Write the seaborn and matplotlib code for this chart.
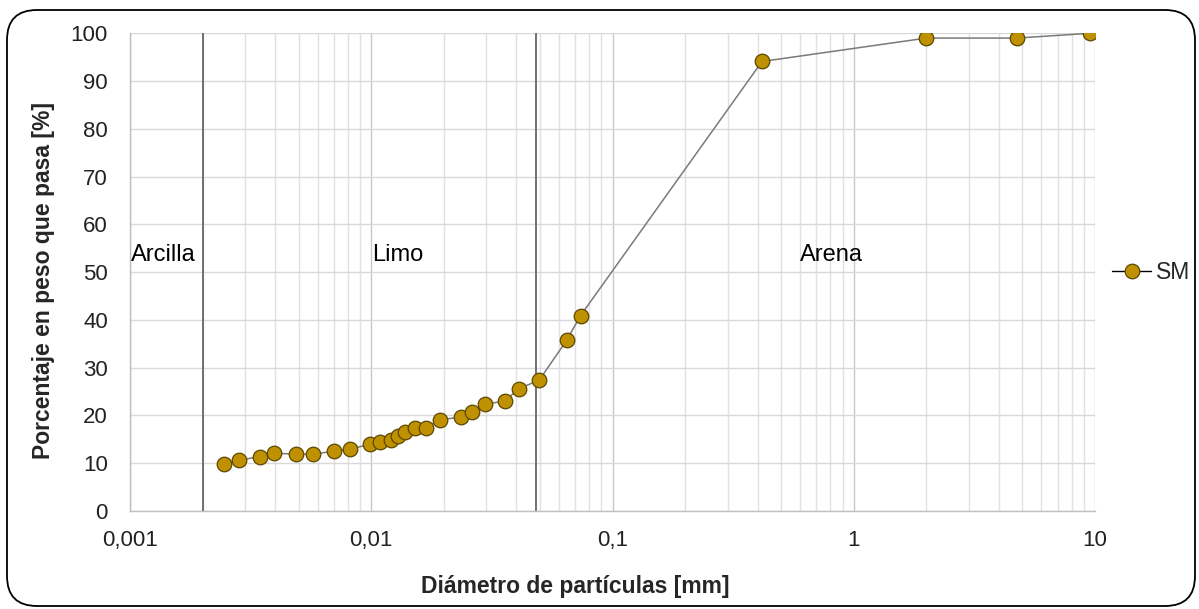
import numpy as np
import pandas as pd
import matplotlib
matplotlib.use("Agg")
import matplotlib.pyplot as plt
import seaborn as sns
from matplotlib.patches import FancyBboxPatch
from matplotlib.ticker import FixedLocator, NullFormatter, FixedFormatter

# ---- data ----
diameter_mm = [0.00246, 0.00283, 0.00345, 0.00396, 0.00489, 0.00573, 0.00698,
               0.00814, 0.00988, 0.01084, 0.01206, 0.0129, 0.01383, 0.01513,
               0.0168, 0.0192, 0.02353, 0.02606, 0.02966, 0.0359, 0.0409,
               0.0497, 0.0645, 0.0737, 0.4166, 2.0, 4.75, 9.5]
percent_passing = [9.8, 10.6, 11.4, 12.1, 11.9, 11.9, 12.5, 12.9, 14.0, 14.4,
                   14.9, 15.8, 16.6, 17.4, 17.4, 19.05, 19.7, 20.7, 22.3, 23.1,
                   25.6, 27.4, 35.7, 40.9, 94.1, 99.0, 99.0, 100.0]
series_name = "SM"

boundaries_mm = [0.002, 0.048]
zone_labels = ["Arcilla", "Limo", "Arena"]
zone_label_x = [0.00101, 0.0101, 0.6]
zone_label_y = 52.3

x_ticks = [0.001, 0.01, 0.1, 1, 10]
x_tick_labels = ["0,001", "0,01", "0,1", "1", "10"]
y_ticks = [0, 10, 20, 30, 40, 50, 60, 70, 80, 90, 100]

df = pd.DataFrame({"d": diameter_mm, "p": percent_passing,
                   "serie": [series_name] * len(diameter_mm)})

# ---- style ----
sns.set_style("white")
plt.rcParams["font.family"] = ["Liberation Sans", "DejaVu Sans"]

fig = plt.figure(figsize=(11.99, 6.09), dpi=100)
ax = fig.add_axes([130 / 1199, 1 - 511 / 609, (1095 - 130) / 1199, (511 - 33.3) / 609])

# outer rounded border
border = FancyBboxPatch((7 / 1199, 3 / 609), (1195 - 7) / 1199, (599 - 3) / 609,
                        boxstyle="round,pad=0,rounding_size=0.025",
                        transform=fig.transFigure, fill=False,
                        edgecolor="black", linewidth=1.3, mutation_aspect=1199 / 609)
fig.patches.append(border)

ax.set_xscale("log")
ax.set_xlim(0.001, 10)
ax.set_ylim(0, 100)

# grid
minor = [m * 10.0 ** e for e in range(-3, 1) for m in range(2, 10)]
ax.xaxis.set_major_locator(FixedLocator(x_ticks))
ax.xaxis.set_major_formatter(FixedFormatter(x_tick_labels))
ax.xaxis.set_minor_locator(FixedLocator(minor))
ax.xaxis.set_minor_formatter(NullFormatter())
ax.yaxis.set_major_locator(FixedLocator(y_ticks))
ax.grid(True, which="major", axis="y", color="#d9d9d9", linewidth=1.0)
ax.grid(True, which="major", axis="x", color="#c8c8c8", linewidth=1.0)
ax.grid(True, which="minor", axis="x", color="#e0e0e0", linewidth=1.0)
ax.set_axisbelow(True)

for b in boundaries_mm:
    ax.axvline(b, color="#666666", linewidth=1.3, zorder=1.5)

sns.lineplot(data=df, x="d", y="p", hue="serie", palette=["#7a7a7a"],
             marker="o", markersize=10.5, markerfacecolor="#BF9000",
             markeredgecolor="#5a4700", markeredgewidth=0.9,
             linewidth=1.1, ax=ax, zorder=3)

for lab, xv in zip(zone_labels, zone_label_x):
    ax.text(xv, zone_label_y, lab, fontsize=17, ha="left", va="baseline",
            color="black")

for s in ["top", "right"]:
    ax.spines[s].set_visible(False)
for s in ["left", "bottom"]:
    ax.spines[s].set_color("#bfbfbf")
    ax.spines[s].set_linewidth(1.0)

ax.tick_params(axis="both", which="both", length=0, labelsize=16, colors="#222222")
ax.tick_params(axis="x", pad=14)
ax.tick_params(axis="y", pad=16)

ax.set_xlabel("Diámetro de partículas [mm]", fontsize=16.5, fontweight="bold")
ax.set_ylabel("Porcentaje en peso que pasa [%]", fontsize=16.5, fontweight="bold")
ax.xaxis.set_label_coords((575 - 130) / 965, (511 - 586) / 477.7)
ax.yaxis.set_label_coords((44 - 130) / 965, (511 - 281) / 477.7)
ax.xaxis.label.set_va("center")
ax.yaxis.label.set_va("center")

leg = ax.legend(loc="center left", bbox_to_anchor=(1.0, 0.5), frameon=False,
                fontsize=16.5, handlelength=1.7, handletextpad=0.2,
                borderaxespad=0.35, borderpad=0.4)
for h in leg.legend_handles:
    h.set_color("black")
    h.set_linewidth(1.0)
    h.set_markerfacecolor("#BF9000")
    h.set_markeredgecolor("#5a4700")

fig.savefig("out.png", dpi=100)
